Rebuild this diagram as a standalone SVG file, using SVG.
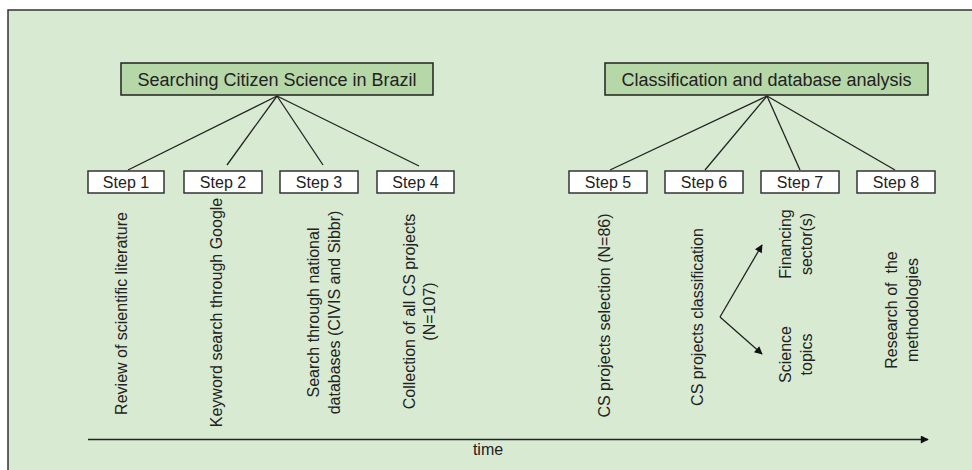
<svg xmlns="http://www.w3.org/2000/svg" width="972" height="470" viewBox="0 0 972 470">
<defs>
<style>
.frame{fill:none;stroke:#333;stroke-width:1.5}
.head{fill:#b6d7a8;stroke:#222;stroke-width:1.5}
.step{fill:#fff;stroke:#333;stroke-width:1.5}
.ht{font-family:"Liberation Sans",Arial,sans-serif;font-size:18px;fill:#222;text-anchor:middle}
.st{font-family:"Liberation Sans",Arial,sans-serif;font-size:16px;fill:#222;text-anchor:middle}
.vt{font-family:"Liberation Sans",Arial,sans-serif;font-size:16px;fill:#222;text-anchor:middle}
.ln{stroke:#222;stroke-width:1.3;fill:none}
</style>
<marker id="ah" viewBox="0 0 10 10" refX="9" refY="5" markerWidth="10" markerHeight="8" markerUnits="userSpaceOnUse" orient="auto">
<path d="M0,0 L10,5 L0,10 Z" fill="#111"/>
</marker>
</defs>
<rect x="0" y="0" width="972" height="470" fill="#fff"/>
<rect x="8" y="10" width="964" height="460" fill="#d9ead3"/>
<path class="frame" d="M8,470 L8,10 L972,10"/>

<g id="connectors">
<line class="ln" x1="277" y1="96" x2="128" y2="170"/>
<line class="ln" x1="277" y1="96" x2="227" y2="165"/>
<line class="ln" x1="277" y1="96" x2="323" y2="165"/>
<line class="ln" x1="277" y1="96" x2="419" y2="166"/>
<line class="ln" x1="767" y1="96" x2="610" y2="170"/>
<line class="ln" x1="767" y1="96" x2="705" y2="170"/>
<line class="ln" x1="767" y1="96" x2="800" y2="170"/>
<line class="ln" x1="767" y1="96" x2="895" y2="170"/>
<path class="ln" d="M720,317 L762,245" marker-end="url(#ah)"/>
<path class="ln" d="M720,317 L762,354" marker-end="url(#ah)"/>
<line class="ln" x1="88" y1="439.5" x2="928" y2="439.5" marker-end="url(#ah)"/>
</g>

<g id="header1">
<rect class="head" x="121" y="63" width="312" height="32"/>
<text class="ht" x="277" y="85.5">Searching Citizen Science in Brazil</text>
</g>
<g id="header2">
<rect class="head" x="605" y="63" width="323" height="32"/>
<text class="ht" x="766.5" y="85.5">Classification and database analysis</text>
</g>

<g id="step1"><rect class="step" x="88" y="171" width="76" height="22"/><text class="st" x="126" y="188">Step 1</text></g>
<g id="step2"><rect class="step" x="184" y="171" width="78" height="22"/><text class="st" x="223" y="188">Step 2</text></g>
<g id="step3"><rect class="step" x="280" y="171" width="78" height="22"/><text class="st" x="319" y="188">Step 3</text></g>
<g id="step4"><rect class="step" x="377" y="171" width="77" height="22"/><text class="st" x="415.5" y="188">Step 4</text></g>
<g id="step5"><rect class="step" x="569" y="171" width="78" height="22"/><text class="st" x="608" y="188">Step 5</text></g>
<g id="step6"><rect class="step" x="665" y="171" width="78" height="22"/><text class="st" x="704" y="188">Step 6</text></g>
<g id="step7"><rect class="step" x="761" y="171" width="78" height="22"/><text class="st" x="800" y="188">Step 7</text></g>
<g id="step8"><rect class="step" x="857" y="171" width="78" height="22"/><text class="st" x="896" y="188">Step 8</text></g>

<g id="desc1"><text class="vt" transform="translate(126.5,313.5) rotate(-90)">Review of scientific literature</text></g>
<g id="desc2"><text class="vt" transform="translate(221.5,312.5) rotate(-90)">Keyword search through Google</text></g>
<g id="desc3"><text class="vt" transform="translate(318.5,312.5) rotate(-90)"><tspan x="0" y="0">Search through national</tspan><tspan x="0" y="21">databases (CIVIS and Sibbr)</tspan></text></g>
<g id="desc4"><text class="vt" transform="translate(415,311.5) rotate(-90)"><tspan x="0" y="0">Collection of all CS projects</tspan><tspan x="0" y="20">(N=107)</tspan></text></g>
<g id="desc5"><text class="vt" transform="translate(609.5,315.5) rotate(-90)">CS projects selection (N=86)</text></g>
<g id="desc6"><text class="vt" transform="translate(703,317) rotate(-90)">CS projects classification</text></g>
<g id="desc7a"><text class="vt" transform="translate(790.5,244) rotate(-90)"><tspan x="0" y="0">Financing</tspan><tspan x="0" y="21">sector(s)</tspan></text></g>
<g id="desc7b"><text class="vt" transform="translate(790.5,354.5) rotate(-90)"><tspan x="0" y="0">Science</tspan><tspan x="0" y="21">topics</tspan></text></g>
<g id="desc8"><text class="vt" xml:space="preserve" transform="translate(896.5,310) rotate(-90)"><tspan x="0" y="0">Research of  the</tspan><tspan x="0" y="21">methodologies</tspan></text></g>
<g id="timelabel"><text class="st" x="488" y="455">time</text></g>
</svg>
